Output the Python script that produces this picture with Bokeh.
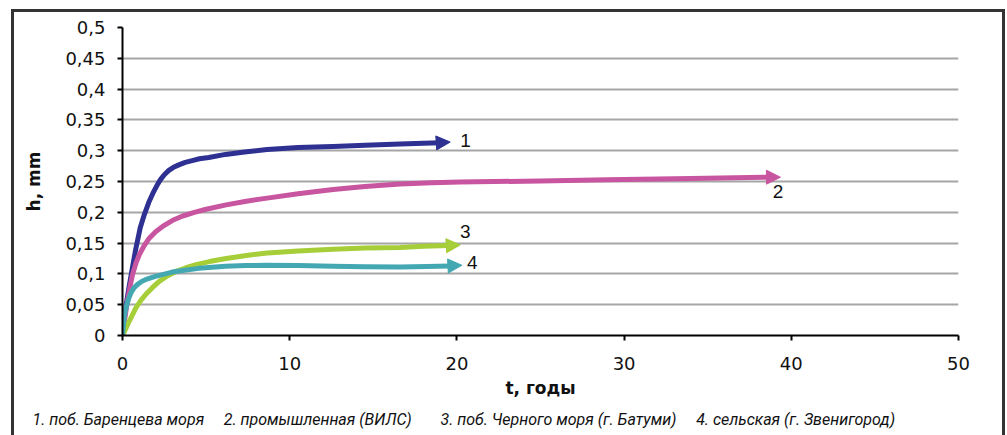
from bokeh.plotting import figure
from bokeh.models import (ColumnDataSource, Arrow, NormalHead, FixedTicker,
                          CustomJSTickFormatter, Label, Range1d, InlineStyleSheet)
from bokeh.core.properties import value
from bokeh.embed import file_html
from bokeh.resources import INLINE

# ---- data ----
t1 = [0, 0.1, 0.25, 0.4, 0.55, 0.77, 1.06, 1.3, 1.6, 1.82, 2.05, 2.27, 2.5, 2.77, 3.05, 3.37,
      3.75, 4.17, 4.6, 5.16, 6.16, 7.3, 8.65, 10.5, 12.6, 14.5, 16.6, 18.0, 19.0, 19.6]
h1 = [0, 0.025, 0.055, 0.08, 0.103, 0.137, 0.175, 0.196, 0.218, 0.231, 0.243, 0.253, 0.261, 0.268, 0.273, 0.277,
      0.281, 0.284, 0.287, 0.289, 0.294, 0.298, 0.302, 0.305, 0.307, 0.309, 0.311, 0.312, 0.313, 0.314]

t2 = [0, 0.15, 0.3, 0.45, 0.6, 0.8, 1.0, 1.3, 1.6, 2.0, 2.4, 3.0, 3.6, 4.3, 5.0, 6.2, 7.4, 8.65,
      10.5, 12.6, 14.5, 16.6, 18.5, 20.2, 25, 29, 34, 38.6, 39.35]
h2 = [0, 0.03, 0.056, 0.079, 0.099, 0.117, 0.131, 0.146, 0.158, 0.169, 0.177, 0.187, 0.194, 0.2, 0.205, 0.212, 0.218, 0.223,
      0.23, 0.237, 0.242, 0.246, 0.248, 0.249, 0.251, 0.253, 0.255, 0.257, 0.257]

t3 = [0, 0.2, 0.4, 0.8, 1.1, 1.4, 1.8, 2.2, 2.7, 3.2, 3.8, 4.4, 5.2, 6.2, 7.4, 8.65, 10.5, 12.6,
      14.5, 16.6, 18.0, 19.5, 20.2]
h3 = [0, 0.011, 0.023, 0.045, 0.057, 0.067, 0.078, 0.088, 0.097, 0.104, 0.11, 0.115, 0.12, 0.125, 0.13, 0.134, 0.137, 0.14,
      0.142, 0.143, 0.145, 0.146, 0.147]

t4 = [0, 0.06, 0.12, 0.25, 0.38, 0.52, 0.68, 0.9, 1.17, 1.5, 1.97, 2.97, 3.7, 4.56, 6.16, 7.4, 8.65,
      10.5, 12.6, 14.5, 16.6, 18.2, 19.6, 20.3]
h4 = [0, 0.018, 0.034, 0.049, 0.061, 0.07, 0.077, 0.083, 0.088, 0.092, 0.096, 0.103, 0.106, 0.109, 0.1125, 0.1135, 0.114,
      0.1135, 0.1125, 0.1115, 0.111, 0.112, 0.113, 0.114]

series_colors = ["#2E3192", "#C8559F", "#A6CE39", "#44A8B2"]

label_t = [20.2, 39.2, 20.5, 20.6]
label_h = [0.317, 0.233, 0.1685, 0.119]
label_text = ["1", "2", "3", "4"]
label_align = ["left", "center", "center", "left"]

x_ticks = [0, 10, 20, 30, 40, 50]
y_ticks = [0, 0.05, 0.1, 0.15, 0.2, 0.25, 0.3, 0.35, 0.4, 0.45, 0.5]
y_tick_labels = ["0", "0,05", "0,1", "0,15", "0,2", "0,25", "0,3", "0,35", "0,4", "0,45", "0,5"]

legend_items = ["1. поб. Баренцева моря", "2. промышленная (ВИЛС)",
                "3. поб. Черного моря (г. Батуми)", "4. сельская (г. Звенигород)"]

# ---- figure ----
NUM_FONT = "DejaVu Sans"
p = figure(width=1007, height=435, output_backend="svg", toolbar_location=None,
           x_range=Range1d(0, 50), y_range=Range1d(0, 0.5),
           min_border_left=122, min_border_right=49, min_border_top=27, min_border_bottom=100)
p.outline_line_color = None
p.background_fill_color = "white"
p.border_fill_color = "white"

# outer frame of the figure (page decoration)
p.stylesheets = [InlineStyleSheet(css=(
    ":host::after { content: ''; position: absolute; left: 10.5px; top: 9px; "
    "width: 994px; height: 426px; border: 3px solid #333333; border-bottom: none; "
    "box-sizing: border-box; pointer-events: none; }"))]

p.xgrid.visible = False
p.ygrid.grid_line_color = "#A6A6A6"
p.ygrid.grid_line_width = 2

p.xaxis.ticker = FixedTicker(ticks=x_ticks)
p.yaxis.ticker = FixedTicker(ticks=y_ticks)
p.yaxis.formatter = CustomJSTickFormatter(
    args=dict(tv=y_ticks, tl=y_tick_labels),
    code="for (let i = 0; i < tv.length; i++) { if (Math.abs(tv[i] - tick) < 1e-9) return tl[i]; } return '';")

for ax in (p.xaxis, p.yaxis):
    ax.axis_line_color = "black"
    ax.axis_line_width = 2
    ax.major_tick_line_color = "black"
    ax.major_tick_line_width = 2
    ax.major_tick_out = 5
    ax.major_tick_in = 0
    ax.minor_tick_line_color = None
    ax.major_label_text_font = NUM_FONT
    ax.major_label_text_font_size = "18px"
    ax.major_label_text_color = "#111111"
    ax.axis_label_text_font = NUM_FONT
    ax.axis_label_text_font_size = "17px"
    ax.axis_label_text_font_style = "bold"
    ax.axis_label_text_color = "#111111"

p.xaxis.axis_label = "t, годы"
p.yaxis.axis_label = "h, mm"
p.yaxis.major_label_standoff = 12
p.xaxis.major_label_standoff = 16
p.yaxis.axis_label_standoff = 18
p.xaxis.axis_label_standoff = 5

series = [(t1, h1), (t2, h2), (t3, h3), (t4, h4)]
for (t, h), c in zip(series, series_colors):
    p.line(t[:-1], h[:-1], line_color=c, line_width=5, line_join="round", line_cap="round")
    p.add_layout(Arrow(end=NormalHead(size=14, fill_color=c, line_color=c, line_width=1),
                       x_start=t[-2], y_start=h[-2], x_end=t[-1], y_end=h[-1],
                       line_color=c, line_alpha=0))

src = ColumnDataSource(dict(x=label_t, y=label_h, text=label_text, align=label_align))
p.text(x="x", y="y", text="text", source=src, text_align="align", text_baseline="middle",
       text_font=value("Liberation Sans"), text_font_size="19px", text_color="#111111")

# caption line under the chart: two text annotations placed in the side panels
GAP = "\u00a0" * 5
caption_parts = [GAP.join(legend_items[:2]), GAP.join(legend_items[2:])]
caption_x = [32, 440]
caption_side = ["above", "below"]
for cx, txt, side in zip(caption_x, caption_parts, caption_side):
    p.add_layout(Label(x=cx, y=419, x_units="canvas", y_units="canvas", text=txt,
                       text_font="Roboto", text_font_style="italic",
                       text_font_size="16px", text_baseline="middle", text_color="#111111"),
                 side)

open("out.html", "w").write(file_html(p, INLINE))
